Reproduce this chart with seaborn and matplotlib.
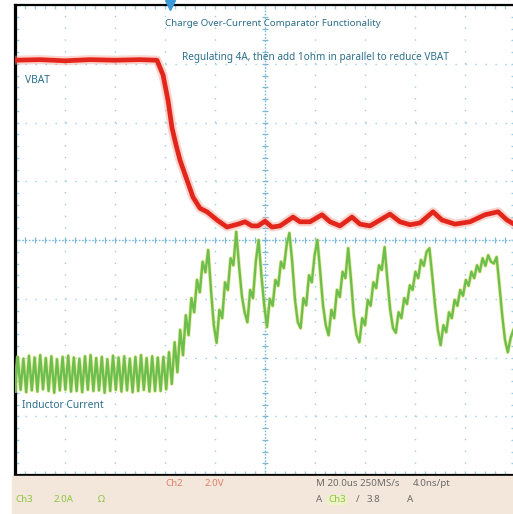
import numpy as np
import pandas as pd
import seaborn as sns
import matplotlib
matplotlib.use("Agg")
import matplotlib.pyplot as plt
from matplotlib.patches import Rectangle

# ---------------- data (time in us, amplitude in screen divisions) ----------------
vbat_t = [0.0, 10.0, 20.0, 30.0, 40.0, 50.0, 56.8, 59.2, 61.2, 62.8, 64.4, 66.0, 68.8,
          71.2, 74.0, 76.8, 80.8, 84.8, 89.2, 92.0, 94.8, 97.2, 100.0, 102.8, 106.0,
          111.2, 114.0, 118.0, 122.8, 126.0, 130.0, 134.8, 138.0, 142.0, 150.0, 154.0,
          158.0, 162.0, 167.2, 170.8, 176.0, 182.0, 188.0, 193.2, 196.8, 199.6]
vbat_v = [3.06, 3.07, 3.05, 3.07, 3.06, 3.07, 3.06, 2.81, 2.38, 1.91, 1.62, 1.36, 1.02,
          0.73, 0.54, 0.48, 0.34, 0.22, 0.27, 0.31, 0.24, 0.24, 0.32, 0.22, 0.24,
          0.39, 0.31, 0.31, 0.43, 0.31, 0.24, 0.39, 0.27, 0.24, 0.44, 0.31,
          0.26, 0.29, 0.48, 0.34, 0.27, 0.31, 0.43, 0.48, 0.34, 0.27]

il_step_us = 1.12
il_v = [-2.57, -1.99, -2.55, -2.02, -2.59, -1.97, -2.56, -2.00, -2.58, -1.96,
        -2.54, -2.01, -2.57, -1.98, -2.60, -2.03, -2.56, -1.99, -2.55, -1.97,
        -2.58, -2.00, -2.57, -2.02, -2.59, -1.98, -2.55, -1.96, -2.57, -2.01,
        -2.56, -1.99, -2.60, -2.03, -2.57, -1.97, -2.55, -2.00, -2.58, -1.98,
        -2.56, -2.02, -2.59, -1.99, -2.57, -1.96, -2.55, -2.01, -2.58, -1.98,
        -2.57, -2.00, -2.57, -1.99, -2.54, -1.91, -2.45, -1.74, -2.25, -1.53,
        -1.96, -1.28, -1.62, -0.99, -1.23, -0.68, -0.89, -0.37, -0.55, -0.17,
        -0.85, -1.45, -1.75, -1.19, -1.33, -0.72, -0.85, -0.31, -0.43, 0.14,
        -0.43, -0.94, -1.23, -1.40, -0.85, -0.99, -0.37, 0.00, -0.60, -1.11,
        -1.48, -1.00, -1.12, -0.68, -0.78, -0.37, -0.48, -0.09, 0.12, -0.37,
        -1.02, -1.40, -1.50, -0.99, -1.11, -0.60, -0.72, -0.26, 0.00, -0.54,
        -1.11, -1.45, -1.62, -1.19, -1.33, -0.85, -0.97, -0.54, -0.65, -0.14,
        -0.68, -1.28, -1.62, -1.74, -1.33, -1.45, -1.02, -1.12, -0.72, -0.82,
        -0.43, -0.51, -0.12, -0.68, -1.19, -1.50, -1.58, -1.23, -1.33, -0.99,
        -1.09, -0.77, -0.85, -0.54, -0.65, -0.34, -0.44, -0.20, -0.14, -0.60,
        -1.11, -1.53, -1.79, -1.45, -1.57, -1.23, -1.33, -1.02, -1.12, -0.85,
        -0.95, -0.68, -0.78, -0.54, -0.65, -0.43, -0.54, -0.31, -0.44, -0.26,
        -0.37, -0.40, -0.29, -0.77, -1.28, -1.70, -1.91, -1.67, -1.53]
il_t = np.arange(len(il_v)) * il_step_us

title_text = "Charge Over-Current Comparator Functionality"
note_text = "Regulating 4A, then add 1ohm in parallel to reduce VBAT"
vbat_label = "VBAT"
il_label = "Inductor Current"

# ---------------- styling ----------------
W, H = 513, 514
NARROW = ["Noto Sans", "DejaVu Sans"]
TEAL = "#2b6e8c"
GRID = "#9ccde2"

fig = plt.figure(figsize=(W / 100, H / 100), dpi=100)
fig.patch.set_facecolor("white")
# status strip
fig.patches.append(Rectangle((12 / W, 0), 1, 38 / H, transform=fig.transFigure,
                             color="#f3e6da", zorder=0))

ax = fig.add_axes([15 / W, 39 / H, 500 / W, 470 / H])
ax.set_facecolor("white")
ax.set_xlim(0, 200)
ax.set_ylim(-4, 4)

# graticule
for x in np.arange(20, 200, 20):
    if x != 100:
        ax.axvline(x, color=GRID, lw=1.0, ls=(0, (1, 7.46)), zorder=1)
for y in np.arange(-3, 4, 1):
    if y != 0:
        ax.axhline(y, color=GRID, lw=1.0, ls=(0, (1, 6.2)), zorder=1)
ax.axhline(0, color="#7bb8d6", lw=1.0, ls=(0, (1.2, 1.2)), zorder=1)
ax.axvline(100, color="#7bb8d6", lw=1.0, ls=(0, (1.2, 1.2)), zorder=1)
minor_x = np.arange(0, 200.1, 4)
minor_y = np.arange(-4, 4.01, 0.2)
ax.plot(minor_x, np.zeros_like(minor_x), ls="none", marker="|", ms=5, mew=0.9,
        color="#7bb8d6", zorder=1)
ax.plot(np.full_like(minor_y, 100), minor_y, ls="none", marker="_", ms=5, mew=0.9,
        color="#7bb8d6", zorder=1)

ax.set_xticks(np.arange(0, 201, 20))
ax.set_xticks(minor_x, minor=True)
ax.set_yticks(np.arange(-4, 4.1, 1))
ax.set_yticks(minor_y, minor=True)
ax.tick_params(which="both", direction="in", color=GRID, length=3, width=1,
               top=True, right=True, labelbottom=False, labelleft=False)

for s in ["left", "bottom"]:
    ax.spines[s].set_linewidth(2.3)
    ax.spines[s].set_color("black")
ax.spines["top"].set_linewidth(1.6)
ax.spines["top"].set_color("black")
ax.spines["right"].set_visible(False)

# traces
vb = pd.DataFrame({"t": vbat_t, "v": vbat_v})
il = pd.DataFrame({"t": il_t, "v": il_v})
sns.lineplot(data=il, x="t", y="v", ax=ax, color="#e4e27a", lw=2.8, alpha=0.7,
             sort=False, estimator=None, zorder=3)
sns.lineplot(data=il, x="t", y="v", ax=ax, color="#6cbf4e", lw=1.7,
             sort=False, estimator=None, zorder=4)
sns.lineplot(data=vb, x="t", y="v", ax=ax, color="#f4a090", lw=6.5, alpha=0.45,
             sort=False, estimator=None, zorder=5)
sns.lineplot(data=vb, x="t", y="v", ax=ax, color="#e2261c", lw=3.4,
             sort=False, estimator=None, zorder=6)
ax.set_xlabel("")
ax.set_ylabel("")

# trigger marker
ax.plot([62], [4.0], marker="v", ms=7, color="#3a9ad9", clip_on=False, zorder=7)

# annotations (axes data coords)
TXT = dict(family=NARROW, fontstretch="condensed", va="center", ha="left", zorder=8)
ax.text(60, 3.69, title_text, color=TEAL, fontsize=7.0, **TXT)
ax.text(66.8, 3.11, note_text, color=TEAL, fontsize=7.2, **TXT)
ax.text(4.0, 2.72, vbat_label, color=TEAL, fontsize=7.4, **TXT)
ax.text(2.8, -2.81, il_label, color=TEAL, fontsize=7.4, **TXT)

# status strip texts (figure pixel positions)
def ftext(px, py, s, color, **kw):
    fig.text(px / W, 1 - py / H, s, color=color, fontsize=7.0, family=NARROW,
             fontstretch="condensed", va="center", ha="left", **kw)

GREEN = "#8cc63f"
SALMON = "#e0806a"
GRAY = "#6b6b6b"
ftext(15, 500, "Ch3", GREEN)
ftext(54, 500, "2.0A", GREEN)
ftext(98, 500, "\u03a9", GREEN)
ftext(165, 484, "Ch2", SALMON)
ftext(205, 484, "2.0V", SALMON)
ftext(316, 484, "M 20.0us 250MS/s", GRAY)
ftext(413, 484, "4.0ns/pt", GRAY)
ftext(316, 500, "A", GRAY)
ftext(328, 500, "Ch3", GREEN,
      bbox=dict(boxstyle="square,pad=0.1", fc="#eef2c8", ec="none"))
ftext(356, 500, "/", GRAY)
ftext(367, 500, "3.8", GRAY)
ftext(407, 500, "A", GRAY)

fig.savefig("out.png", dpi=100)
